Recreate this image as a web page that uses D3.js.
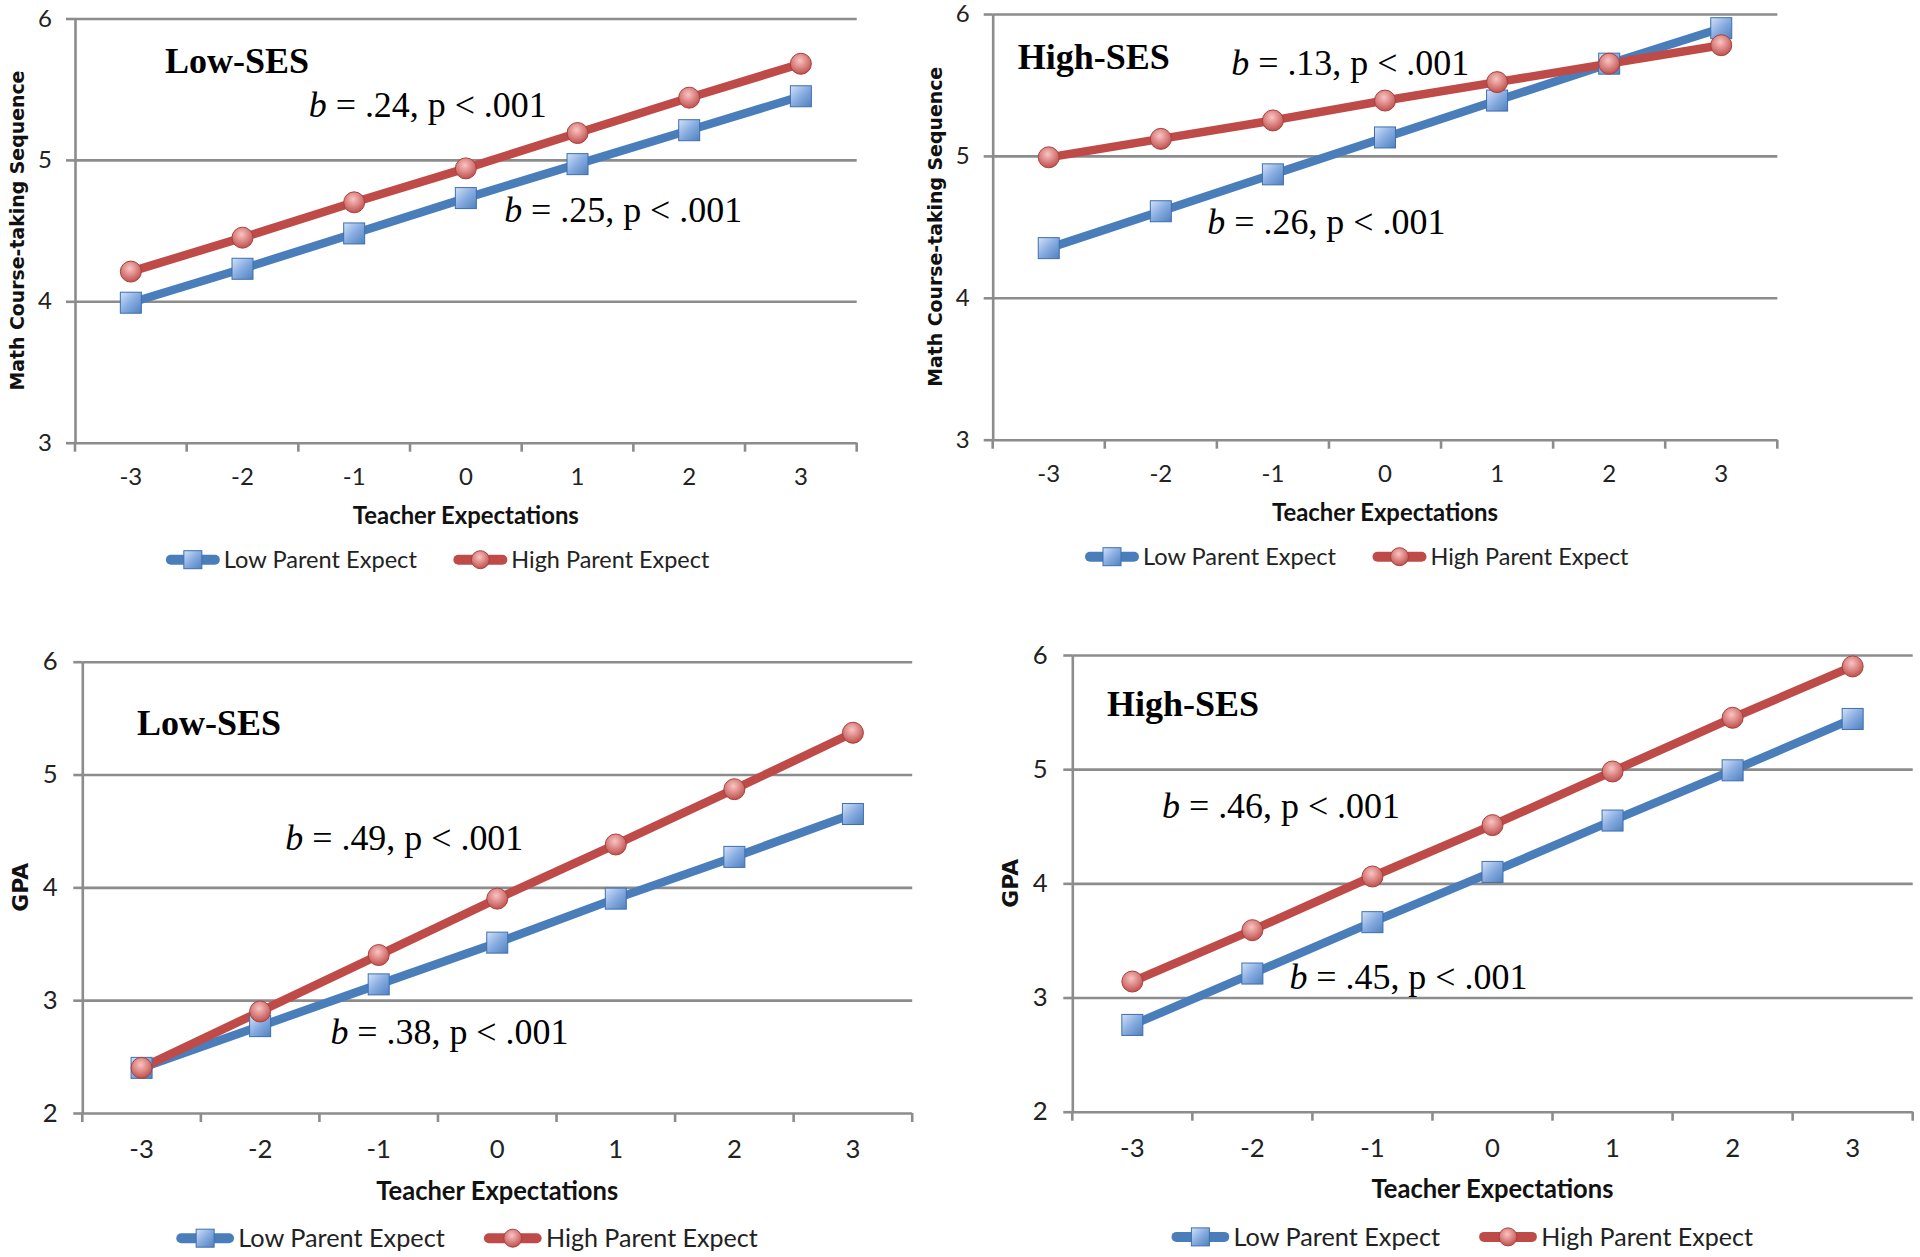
<!DOCTYPE html>
<html>
<head>
<meta charset="utf-8">
<script src="https://cdn.jsdelivr.net/npm/d3@7"></script>
<style>
body { margin: 0; background: #fff; }
svg { display: block; }
</style>
</head>
<body>
<svg id="chart" width="1920" height="1257"></svg>
<script>
// teacher expectation categories (x axis)
var teacherExp = ["-3", "-2", "-1", "0", "1", "2", "3"];
var seriesNames = ["Low Parent Expect", "High Parent Expect"];

// math course-taking sequence, low SES
var mathLowSesLow  = [3.99, 4.23, 4.48, 4.73, 4.97, 5.21, 5.45];
var mathLowSesHigh = [4.21, 4.45, 4.70, 4.94, 5.19, 5.44, 5.68];
// math course-taking sequence, high SES
var mathHighSesLow  = [4.35, 4.61, 4.87, 5.13, 5.39, 5.65, 5.90];
var mathHighSesHigh = [4.99, 5.12, 5.25, 5.39, 5.52, 5.65, 5.78];
// GPA, low SES
var gpaLowSesLow  = [2.40, 2.77, 3.14, 3.51, 3.90, 4.27, 4.65];
var gpaLowSesHigh = [2.40, 2.90, 3.40, 3.90, 4.38, 4.87, 5.37];
// GPA, high SES
var gpaHighSesLow  = [2.76, 3.21, 3.66, 4.10, 4.55, 4.99, 5.44];
var gpaHighSesHigh = [3.14, 3.59, 4.06, 4.51, 4.98, 5.45, 5.90];

var mathTicks = [3, 4, 5, 6];
var gpaTicks = [2, 3, 4, 5, 6];
var panelTitles = ["Low-SES", "High-SES", "Low-SES", "High-SES"];
var yTitles = ["Math Course-taking Sequence", "Math Course-taking Sequence", "GPA", "GPA"];
var xTitle = "Teacher Expectations";
// slope labels: [upper note, lower note]
var slopeLabels = [[".24", ".25"], [".13", ".26"], [".49", ".38"], [".46", ".45"]];

// layout of the four panels (pixels)
var panels = [
  { low: mathLowSesLow, high: mathLowSesHigh, ticks: mathTicks, x0: 75, x1: 856.7, y0: 18.5, y1: 442.7, s: 1,
    title: [0.115, 0.100], notes: [[0.299, 0.2075], [0.549, 0.456]] },
  { low: mathHighSesLow, high: mathHighSesHigh, ticks: mathTicks, x0: 992.7, x1: 1777.3, y0: 14, y1: 439.7, s: 1,
    title: [0.032, 0.102], notes: [[0.304, 0.1196], [0.2736, 0.493]] },
  { low: gpaLowSesLow, high: gpaLowSesHigh, ticks: gpaTicks, x0: 82.3, x1: 912.2, y0: 661.7, y1: 1113, s: 1.07,
    title: [0.066, 0.135], notes: [[0.2446, 0.395], [0.299, 0.824]] },
  { low: gpaHighSesLow, high: gpaHighSesHigh, ticks: gpaTicks, x0: 1072.3, x1: 1912.7, y0: 655, y1: 1111.7, s: 1.07,
    title: [0.0413, 0.107], notes: [[0.1067, 0.333], [0.2583, 0.708]] }
];

var blue = "#4a7ebb", red = "#be4b48", grid = "#8c8c8c";

var svg = d3.select("#chart");
var defs = svg.append("defs");

var sq = defs.append("linearGradient").attr("id", "sqGrad")
  .attr("x1", "0").attr("y1", "0").attr("x2", "1").attr("y2", "1");
sq.append("stop").attr("offset", "0%").attr("stop-color", "#d2e2f8");
sq.append("stop").attr("offset", "50%").attr("stop-color", "#86abe0");
sq.append("stop").attr("offset", "100%").attr("stop-color", "#4f81bd");

var ci = defs.append("radialGradient").attr("id", "ciGrad")
  .attr("cx", "45%").attr("cy", "35%").attr("r", "65%");
ci.append("stop").attr("offset", "0%").attr("stop-color", "#fac4c2");
ci.append("stop").attr("offset", "100%").attr("stop-color", "#c0504d");

function square(sel, cx, cy, size)
{
  sel.append("rect")
    .attr("x", cx - size / 2).attr("y", cy - size / 2)
    .attr("width", size).attr("height", size)
    .attr("fill", "url(#sqGrad)")
    .attr("stroke", "#3d6fae").attr("stroke-width", 1);
}

function circle(sel, cx, cy, r)
{
  sel.append("circle")
    .attr("cx", cx).attr("cy", cy).attr("r", r)
    .attr("fill", "url(#ciGrad)")
    .attr("stroke", "#a8403d").attr("stroke-width", 1);
}

function drawPanel(p, k)
{
  var s = p.s;
  var w = p.x1 - p.x0, h = p.y1 - p.y0;
  var x = d3.scaleBand().domain(teacherExp).range([p.x0, p.x1]);
  var y = d3.scaleLinear().domain(d3.extent(p.ticks)).range([p.y1, p.y0]);
  var cx = function(i) { return x(teacherExp[i]) + x.bandwidth() / 2; };

  var g = svg.append("g");

  // horizontal gridlines (the lowest one is the x axis)
  g.append("g")
    .attr("transform", "translate(" + p.x0 + ",0)")
    .call(d3.axisLeft(y).tickValues(p.ticks).tickSize(-w).tickFormat(""))
    .call(function(a) {
      a.select(".domain").remove();
      a.selectAll("line").attr("stroke", grid).attr("stroke-width", 2.6);
    });

  // y axis with outward ticks and labels
  var tickLen = 9;
  var tfs = 24 * s;
  g.append("g")
    .attr("transform", "translate(" + p.x0 + ",0)")
    .call(d3.axisLeft(y).tickValues(p.ticks).tickSize(tickLen).tickSizeOuter(0)
          .tickPadding(23 * s - tickLen).tickFormat(d3.format("d")))
    .call(function(a) {
      a.select(".domain").attr("stroke", grid).attr("stroke-width", 2.6);
      a.selectAll("line").attr("stroke", grid).attr("stroke-width", 2.6);
      a.selectAll("text").attr("font-family", "Lato").attr("font-size", tfs).attr("fill", "#222");
    });

  // x axis labels
  g.append("g")
    .attr("transform", "translate(0," + p.y1 + ")")
    .call(d3.axisBottom(x).tickSize(0).tickPadding(33.7 * s - 0.36 * tfs))
    .call(function(a) {
      a.select(".domain").remove();
      a.selectAll("text").attr("font-family", "Lato").attr("font-size", tfs).attr("fill", "#222");
    });

  // x tick marks sit on the category boundaries
  var bounds = teacherExp.map(function(c) { return x(c); }).concat([x.range()[1]]);
  g.append("g").selectAll("line").data(bounds).enter().append("line")
    .attr("x1", function(d) { return d; }).attr("x2", function(d) { return d; })
    .attr("y1", p.y1).attr("y2", p.y1 + tickLen)
    .attr("stroke", grid).attr("stroke-width", 2.6);

  // axis titles
  g.append("text")
    .attr("x", p.x0 + w / 2).attr("y", p.y1 + 72.3 * s).attr("dy", "0.36em")
    .attr("text-anchor", "middle")
    .attr("font-family", "Lato").attr("font-weight", "bold").attr("font-size", 24.5 * s)
    .attr("textLength", 226 * s).attr("lengthAdjust", "spacingAndGlyphs")
    .attr("fill", "#111")
    .text(xTitle);

  var yt = g.append("text")
    .attr("transform", "translate(" + (p.x0 - 58 * s) + "," + (p.y0 + h / 2) + ") rotate(-90)")
    .attr("dy", "0.36em")
    .attr("text-anchor", "middle")
    .attr("font-family", "DejaVu Sans").attr("font-weight", "bold").attr("font-size", 20 * s)
    .attr("fill", "#111")
    .text(yTitles[k]);
  yt.attr("textLength", yTitles[k].length > 5 ? 320 : 49).attr("lengthAdjust", "spacingAndGlyphs");

  // series lines
  var line = d3.line().x(function(d, i) { return cx(i); }).y(function(d) { return y(d); });
  [[p.low, blue], [p.high, red]].forEach(function(ser) {
    g.append("path").datum(ser[0])
      .attr("d", line)
      .attr("fill", "none")
      .attr("stroke", ser[1]).attr("stroke-width", 8.5)
      .attr("stroke-linejoin", "round").attr("stroke-linecap", "round");
  });
  p.low.forEach(function(v, i) { square(g, cx(i), y(v), 21); });
  p.high.forEach(function(v, i) { circle(g, cx(i), y(v), 10.5); });

  // panel title
  g.append("text")
    .attr("x", p.x0 + p.title[0] * w).attr("y", p.y0 + p.title[1] * h).attr("dy", "0.33em")
    .attr("font-family", "Liberation Serif").attr("font-weight", "bold").attr("font-size", 36)
    .attr("fill", "#000")
    .text(panelTitles[k]);

  // slope notes
  p.notes.forEach(function(pos, j) {
    var t = g.append("text")
      .attr("x", p.x0 + pos[0] * w).attr("y", p.y0 + pos[1] * h).attr("dy", "0.3em")
      .attr("font-family", "Liberation Serif").attr("font-size", 35)
      .attr("textLength", 238).attr("lengthAdjust", "spacingAndGlyphs")
      .attr("fill", "#000");
    t.append("tspan").attr("font-style", "italic").text("b");
    t.append("tspan").text(" = " + slopeLabels[k][j] + ", p < .001");
  });

  // legend
  var ly = p.y1 + 117 * s;
  var lx = p.x0 + w / 2 - 300 * s;
  var textLens = [193, 198];
  seriesNames.forEach(function(name, j) {
    var sx = lx + j * 287.5 * s;
    g.append("line")
      .attr("x1", sx + 5).attr("x2", sx + 54 * s - 5)
      .attr("y1", ly).attr("y2", ly)
      .attr("stroke", j == 0 ? blue : red).attr("stroke-width", 10)
      .attr("stroke-linecap", "round");
    if (j == 0) square(g, sx + 27 * s, ly, 18);
    else circle(g, sx + 27 * s, ly, 9);
    g.append("text")
      .attr("x", sx + 58 * s).attr("y", ly).attr("dy", "0.36em")
      .attr("font-family", "Lato").attr("font-size", 23 * s)
      .attr("textLength", textLens[j] * s).attr("lengthAdjust", "spacingAndGlyphs")
      .attr("fill", "#222")
      .text(name);
  });
}

panels.forEach(drawPanel);
</script>
</body>
</html>
